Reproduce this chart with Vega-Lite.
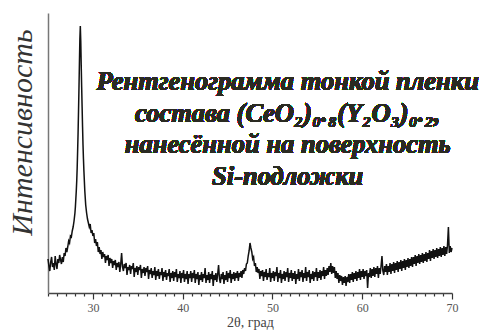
{
  "$schema": "https://vega.github.io/schema/vega-lite/v6.json",
  "autosize": "none",
  "padding": {"left": 48, "top": 13, "right": 31, "bottom": 40},
  "width": 404,
  "height": 280,
  "background": "white",
  "config": {
    "view": {"stroke": null},
    "axisX": {
      "titleFont": "Liberation Serif, Times New Roman, serif", "titleFontSize": 14, "titleFontWeight": "normal", "titleColor": "#444444",
      "titlePadding": 2,
      "labelFont": "Liberation Serif, Times New Roman, serif", "labelFontSize": 12, "labelColor": "#555555", "labelPadding": 3,
      "labelOverlap": false, "labelFlush": false,
      "grid": false, "ticks": true, "tickColor": "#333333", "tickWidth": 1.2,
      "domainColor": "#444444", "domainWidth": 1.5
    },
    "axisY": {
      "titleFont": "Times New Roman, Liberation Serif, serif", "titleFontStyle": "italic", "titleFontWeight": "normal",
      "titleFontSize": 30, "titleColor": "#333333",
      "titleAngle": -90, "titleX": -26, "titleY": 119, "titleAlign": "center", "titleBaseline": "middle",
      "labels": false, "ticks": false, "grid": false,
      "domainColor": "#777777", "domainWidth": 1.5
    }
  },
  "data": {"values": [
    {"t":25.0,"i":34},{"t":25.1,"i":27},{"t":25.2,"i":22},{"t":25.3,"i":31},{"t":25.4,"i":36},{"t":25.5,"i":26},{"t":25.6,"i":30},{"t":25.7,"i":23},{"t":25.8,"i":37},{"t":25.9,"i":29},
    {"t":26.0,"i":24},{"t":26.1,"i":34},{"t":26.2,"i":30},{"t":26.3,"i":38},{"t":26.4,"i":33},{"t":26.5,"i":29},{"t":26.6,"i":36},{"t":26.7,"i":31},{"t":26.8,"i":40},{"t":26.9,"i":37},
    {"t":27.0,"i":45},{"t":27.1,"i":41},{"t":27.2,"i":46},{"t":27.3,"i":52},{"t":27.4,"i":50},{"t":27.5,"i":57},{"t":27.6,"i":56},{"t":27.7,"i":62},{"t":27.8,"i":66},
    {"t":27.9,"i":72},{"t":28.0,"i":80},{"t":28.05,"i":86},{"t":28.1,"i":94},{"t":28.15,"i":102},{"t":28.2,"i":112},{"t":28.25,"i":125},{"t":28.3,"i":142},{"t":28.35,"i":160},{"t":28.4,"i":182},
    {"t":28.45,"i":205},{"t":28.5,"i":230},{"t":28.55,"i":254},{"t":28.6,"i":267},{"t":28.65,"i":252},{"t":28.7,"i":228},{"t":28.75,"i":206},{"t":28.8,"i":186},{"t":28.85,"i":166},{"t":28.9,"i":148},
    {"t":28.95,"i":134},{"t":29.0,"i":122},{"t":29.1,"i":102},{"t":29.2,"i":88},{"t":29.3,"i":80},{"t":29.4,"i":74},
    {"t":29.5,"i":70},{"t":29.6,"i":66},{"t":29.7,"i":69},{"t":29.8,"i":60},{"t":29.9,"i":63},{"t":30.0,"i":57},{"t":30.1,"i":60},{"t":30.2,"i":50},{"t":30.3,"i":54},{"t":30.4,"i":47},
    {"t":30.5,"i":51},{"t":30.6,"i":41},{"t":30.7,"i":46},{"t":30.8,"i":39},{"t":30.9,"i":43},{"t":31.0,"i":34},{"t":31.1,"i":41},{"t":31.2,"i":36},{"t":31.3,"i":39},{"t":31.4,"i":30},
    {"t":31.5,"i":37},{"t":31.6,"i":33},{"t":31.7,"i":38},{"t":31.8,"i":27},{"t":31.9,"i":35},{"t":32.0,"i":30},{"t":32.1,"i":34},{"t":32.2,"i":25},{"t":32.3,"i":32},{"t":32.4,"i":28},
    {"t":32.5,"i":33},{"t":32.6,"i":23},{"t":32.7,"i":30},{"t":32.8,"i":26},{"t":32.9,"i":31},{"t":33.0,"i":21},{"t":33.1,"i":29},{"t":33.2,"i":40},{"t":33.3,"i":26},{"t":33.4,"i":22},
    {"t":33.5,"i":29},{"t":33.6,"i":25},{"t":33.7,"i":30},{"t":33.8,"i":18},{"t":33.9,"i":26},{"t":34.0,"i":23},{"t":34.1,"i":28},{"t":34.2,"i":19},{"t":34.3,"i":27},{"t":34.4,"i":24},
    {"t":34.5,"i":30},{"t":34.6,"i":16},{"t":34.7,"i":25},{"t":34.8,"i":21},{"t":34.9,"i":27},{"t":35.0,"i":18},{"t":35.1,"i":26},{"t":35.2,"i":23},{"t":35.3,"i":28},{"t":35.4,"i":15},
    {"t":35.5,"i":24},{"t":35.6,"i":20},{"t":35.7,"i":26},{"t":35.8,"i":17},{"t":35.9,"i":25},{"t":36.0,"i":21},{"t":36.1,"i":27},{"t":36.2,"i":14},{"t":36.3,"i":23},{"t":36.4,"i":19},
    {"t":36.5,"i":25},{"t":36.6,"i":15},{"t":36.7,"i":22},{"t":36.8,"i":18},{"t":36.9,"i":26},{"t":37.0,"i":13},{"t":37.1,"i":22},{"t":37.2,"i":17},{"t":37.3,"i":24},{"t":37.4,"i":14},
    {"t":37.5,"i":21},{"t":37.6,"i":18},{"t":37.7,"i":25},{"t":37.8,"i":12},{"t":37.9,"i":21},{"t":38.0,"i":16},{"t":38.1,"i":23},{"t":38.2,"i":13},{"t":38.3,"i":20},{"t":38.4,"i":17},
    {"t":38.5,"i":24},{"t":38.6,"i":11},{"t":38.7,"i":20},{"t":38.8,"i":15},{"t":38.9,"i":22},{"t":39.0,"i":12},{"t":39.1,"i":21},{"t":39.2,"i":16},{"t":39.3,"i":24},{"t":39.4,"i":11},
    {"t":39.5,"i":19},{"t":39.6,"i":15},{"t":39.7,"i":22},{"t":39.8,"i":10},{"t":39.9,"i":20},{"t":40.0,"i":15},{"t":40.1,"i":23},{"t":40.2,"i":11},{"t":40.3,"i":19},{"t":40.4,"i":14},
    {"t":40.5,"i":22},{"t":40.6,"i":9},{"t":40.7,"i":19},{"t":40.8,"i":15},{"t":40.9,"i":22},{"t":41.0,"i":11},{"t":41.1,"i":20},{"t":41.2,"i":15},{"t":41.3,"i":23},{"t":41.4,"i":10},
    {"t":41.5,"i":19},{"t":41.6,"i":14},{"t":41.7,"i":21},{"t":41.8,"i":8},{"t":41.9,"i":18},{"t":42.0,"i":13},{"t":42.1,"i":21},{"t":42.2,"i":11},{"t":42.3,"i":19},{"t":42.4,"i":15},
    {"t":42.5,"i":25},{"t":42.6,"i":10},{"t":42.7,"i":18},{"t":42.8,"i":13},{"t":42.9,"i":21},{"t":43.0,"i":10},{"t":43.1,"i":19},{"t":43.2,"i":14},{"t":43.3,"i":22},{"t":43.4,"i":7},
    {"t":43.5,"i":18},{"t":43.6,"i":13},{"t":43.7,"i":20},{"t":43.8,"i":11},{"t":43.9,"i":19},{"t":44.0,"i":28},{"t":44.1,"i":14},{"t":44.2,"i":10},{"t":44.3,"i":19},{"t":44.4,"i":14},
    {"t":44.5,"i":21},{"t":44.6,"i":9},{"t":44.7,"i":18},{"t":44.8,"i":13},{"t":44.9,"i":22},{"t":45.0,"i":11},{"t":45.1,"i":20},{"t":45.2,"i":15},{"t":45.3,"i":23},{"t":45.4,"i":10},
    {"t":45.5,"i":19},{"t":45.6,"i":14},{"t":45.7,"i":21},{"t":45.8,"i":12},{"t":45.9,"i":20},{"t":46.0,"i":15},{"t":46.1,"i":22},{"t":46.2,"i":12},{"t":46.3,"i":20},{"t":46.4,"i":16},
    {"t":46.5,"i":22},{"t":46.6,"i":15},{"t":46.7,"i":23},{"t":46.8,"i":19},{"t":46.9,"i":25},{"t":47.0,"i":22},{"t":47.1,"i":29},{"t":47.2,"i":30},{"t":47.3,"i":37},{"t":47.4,"i":42},
    {"t":47.5,"i":50},{"t":47.6,"i":45},{"t":47.7,"i":41},{"t":47.8,"i":34},{"t":47.9,"i":36},{"t":48.0,"i":27},{"t":48.1,"i":30},{"t":48.2,"i":21},{"t":48.3,"i":26},{"t":48.4,"i":20},
    {"t":48.5,"i":24},{"t":48.6,"i":14},{"t":48.7,"i":22},{"t":48.8,"i":17},{"t":48.9,"i":23},{"t":49.0,"i":12},{"t":49.1,"i":21},{"t":49.2,"i":16},{"t":49.3,"i":24},{"t":49.4,"i":13},
    {"t":49.5,"i":20},{"t":49.6,"i":16},{"t":49.7,"i":25},{"t":49.8,"i":11},{"t":49.9,"i":20},{"t":50.0,"i":15},{"t":50.1,"i":22},{"t":50.2,"i":12},{"t":50.3,"i":21},{"t":50.4,"i":17},
    {"t":50.5,"i":26},{"t":50.6,"i":11},{"t":50.7,"i":20},{"t":50.8,"i":15},{"t":50.9,"i":23},{"t":51.0,"i":10},{"t":51.1,"i":19},{"t":51.2,"i":14},{"t":51.3,"i":22},{"t":51.4,"i":12},
    {"t":51.5,"i":21},{"t":51.6,"i":16},{"t":51.7,"i":25},{"t":51.8,"i":11},{"t":51.9,"i":20},{"t":52.0,"i":15},{"t":52.1,"i":23},{"t":52.2,"i":12},{"t":52.3,"i":20},{"t":52.4,"i":14},
    {"t":52.5,"i":22},{"t":52.6,"i":9},{"t":52.7,"i":19},{"t":52.8,"i":14},{"t":52.9,"i":24},{"t":53.0,"i":12},{"t":53.1,"i":21},{"t":53.2,"i":16},{"t":53.3,"i":23},{"t":53.4,"i":11},
    {"t":53.5,"i":20},{"t":53.6,"i":15},{"t":53.7,"i":26},{"t":53.8,"i":12},{"t":53.9,"i":21},{"t":54.0,"i":16},{"t":54.1,"i":23},{"t":54.2,"i":10},{"t":54.3,"i":19},{"t":54.4,"i":14},
    {"t":54.5,"i":22},{"t":54.6,"i":12},{"t":54.7,"i":21},{"t":54.8,"i":16},{"t":54.9,"i":25},{"t":55.0,"i":12},{"t":55.1,"i":21},{"t":55.2,"i":15},{"t":55.3,"i":23},{"t":55.4,"i":13},
    {"t":55.5,"i":22},{"t":55.6,"i":17},{"t":55.7,"i":26},{"t":55.8,"i":14},{"t":55.9,"i":23},{"t":56.0,"i":17},{"t":56.1,"i":25},{"t":56.2,"i":18},{"t":56.3,"i":27},{"t":56.4,"i":21},
    {"t":56.5,"i":30},{"t":56.6,"i":19},{"t":56.7,"i":27},{"t":56.8,"i":20},{"t":56.9,"i":26},{"t":57.0,"i":15},{"t":57.1,"i":22},{"t":57.2,"i":14},{"t":57.3,"i":20},{"t":57.4,"i":10},
    {"t":57.5,"i":18},{"t":57.6,"i":12},{"t":57.7,"i":17},{"t":57.8,"i":8},{"t":57.9,"i":16},{"t":58.0,"i":10},{"t":58.1,"i":17},{"t":58.2,"i":7},{"t":58.3,"i":16},{"t":58.4,"i":11},
    {"t":58.5,"i":19},{"t":58.6,"i":10},{"t":58.7,"i":19},{"t":58.8,"i":13},{"t":58.9,"i":21},{"t":59.0,"i":11},{"t":59.1,"i":20},{"t":59.2,"i":14},{"t":59.3,"i":22},{"t":59.4,"i":12},
    {"t":59.5,"i":21},{"t":59.6,"i":15},{"t":59.7,"i":24},{"t":59.8,"i":13},{"t":59.9,"i":22},{"t":60.0,"i":16},{"t":60.1,"i":24},{"t":60.2,"i":14},{"t":60.3,"i":22},{"t":60.4,"i":17},
    {"t":60.5,"i":23},{"t":60.6,"i":5},{"t":60.7,"i":20},{"t":60.8,"i":16},{"t":60.9,"i":25},{"t":61.0,"i":15},{"t":61.1,"i":24},{"t":61.2,"i":17},{"t":61.3,"i":26},{"t":61.4,"i":16},
    {"t":61.5,"i":25},{"t":61.6,"i":19},{"t":61.7,"i":27},{"t":61.8,"i":15},{"t":61.9,"i":25},{"t":62.0,"i":19},{"t":62.1,"i":27},{"t":62.2,"i":37},{"t":62.3,"i":22},{"t":62.4,"i":18},
    {"t":62.5,"i":27},{"t":62.6,"i":21},{"t":62.7,"i":29},{"t":62.8,"i":18},{"t":62.9,"i":27},{"t":63.0,"i":21},{"t":63.1,"i":30},{"t":63.2,"i":19},{"t":63.3,"i":29},{"t":63.4,"i":22},
    {"t":63.5,"i":31},{"t":63.6,"i":20},{"t":63.7,"i":30},{"t":63.8,"i":23},{"t":63.9,"i":32},{"t":64.0,"i":21},{"t":64.1,"i":31},{"t":64.2,"i":24},{"t":64.3,"i":33},{"t":64.4,"i":22},
    {"t":64.5,"i":32},{"t":64.6,"i":25},{"t":64.7,"i":34},{"t":64.8,"i":23},{"t":64.9,"i":33},{"t":65.0,"i":26},{"t":65.1,"i":35},{"t":65.2,"i":25},{"t":65.3,"i":34},{"t":65.4,"i":27},
    {"t":65.5,"i":36},{"t":65.6,"i":26},{"t":65.7,"i":36},{"t":65.8,"i":29},{"t":65.9,"i":38},{"t":66.0,"i":27},{"t":66.1,"i":37},{"t":66.2,"i":30},{"t":66.3,"i":39},{"t":66.4,"i":29},
    {"t":66.5,"i":38},{"t":66.6,"i":31},{"t":66.7,"i":40},{"t":66.8,"i":30},{"t":66.9,"i":39},{"t":67.0,"i":32},{"t":67.1,"i":41},{"t":67.2,"i":31},{"t":67.3,"i":40},{"t":67.4,"i":34},
    {"t":67.5,"i":43},{"t":67.6,"i":32},{"t":67.7,"i":42},{"t":67.8,"i":35},{"t":67.9,"i":44},{"t":68.0,"i":34},{"t":68.1,"i":43},{"t":68.2,"i":36},{"t":68.3,"i":45},{"t":68.4,"i":35},
    {"t":68.5,"i":44},{"t":68.6,"i":37},{"t":68.7,"i":46},{"t":68.8,"i":36},{"t":68.9,"i":45},{"t":69.0,"i":38},{"t":69.1,"i":47},{"t":69.2,"i":37},{"t":69.3,"i":46},{"t":69.4,"i":39},
    {"t":69.5,"i":48},{"t":69.6,"i":66},{"t":69.7,"i":40},{"t":69.8,"i":47},{"t":69.9,"i":41},{"t":70.0,"i":45}
  ]},
  "encoding": {
    "x": {
      "field": "t", "type": "quantitative",
      "scale": {"domain": [25, 70], "nice": false, "zero": false},
      "axis": {
        "title": "2θ, град",
        "values": [25,26,27,28,29,30,31,32,33,34,35,36,37,38,39,40,41,42,43,44,45,46,47,48,49,50,51,52,53,54,55,56,57,58,59,60,61,62,63,64,65,66,67,68,69,70],
        "labelExpr": "datum.value % 10 == 0 ? datum.label : ''",
        "tickSize": {"condition": {"test": "datum.value % 10 == 0", "value": 6}, "value": 3}
      }
    },
    "y": {
      "field": "i", "type": "quantitative",
      "scale": {"domain": [0, 280], "nice": false},
      "axis": {"title": "Интенсивность"}
    }
  },
  "layer": [
    {
      "mark": {"type": "line", "color": "#111111", "strokeWidth": 1.5, "interpolate": "linear"}
    },
    {
      "mark": {
        "type": "text",
        "text": ["Рентгенограмма тонкой пленки", "состава (CeO₂)₀.₈(Y₂O₃)₀.₂,", "нанесённой на поверхность", "Si-подложки"],
        "font": "Liberation Serif, Times New Roman, serif", "fontStyle": "italic", "fontWeight": "bold", "fontSize": 26.5,
        "lineHeight": 31.5, "align": "center", "baseline": "middle", "color": "#2a2a22"
      },
      "encoding": {
        "x": {"datum": 51.7, "type": "quantitative"},
        "y": {"datum": 211, "type": "quantitative"}
      }
    }
  ]
}
